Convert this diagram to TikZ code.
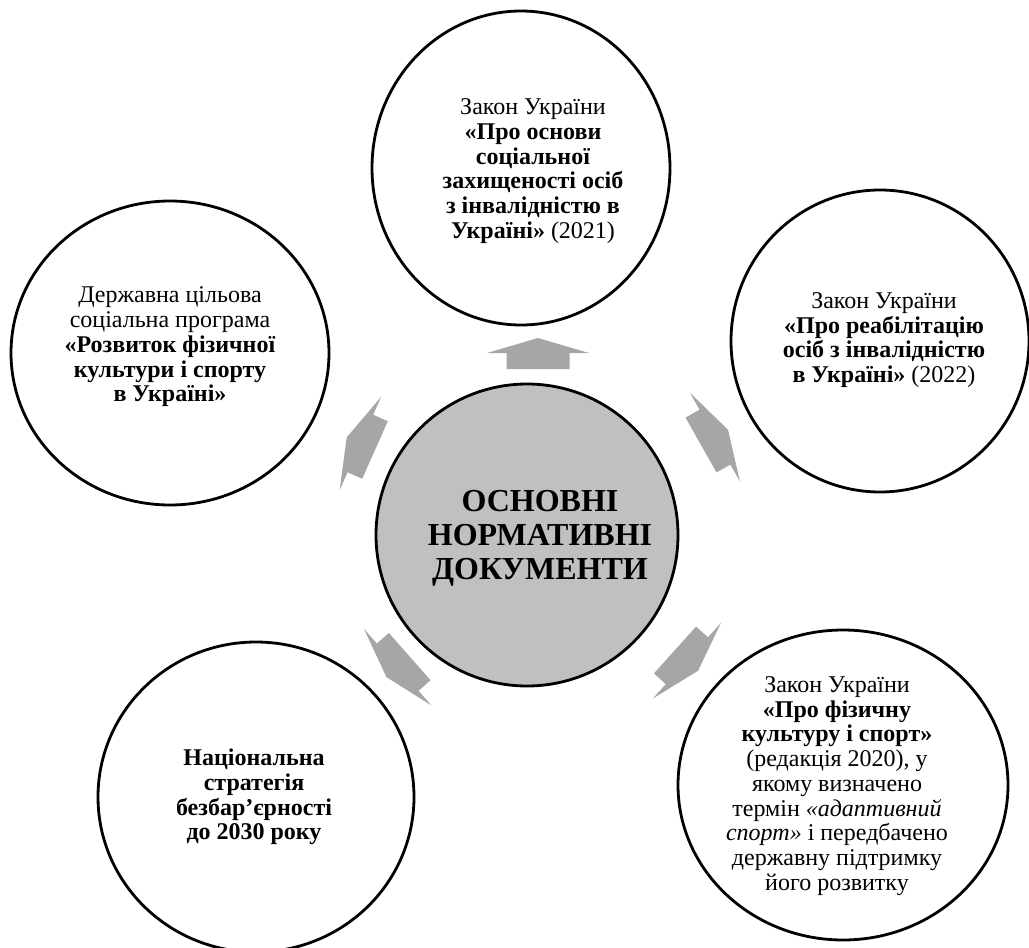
\documentclass[tikz,border=0pt]{standalone}
\usepackage{fontspec}
\setmainfont{Liberation Serif}
\usetikzlibrary{shapes.geometric}
\definecolor{arrowgray}{RGB}{166,166,166}
\definecolor{hubgray}{RGB}{192,192,192}
\begin{document}
\begin{tikzpicture}[x=1pt,y=-1pt,
  outer/.style={ellipse, draw=black, line width=2.8pt, fill=white, inner sep=0pt},
  hub/.style={ellipse, draw=black, line width=2.8pt, fill=hubgray, inner sep=0pt},
  txt/.style={align=center, font=\fontsize{24}{24.7}\selectfont, inner sep=0pt},
  hubtxt/.style={align=center, font=\fontsize{32}{34}\selectfont\bfseries, inner sep=0pt},
  blockarrow/.pic={\fill[arrowgray] (0,-31.5) -- (16,-31.5) -- (16,-51) -- (31,0) -- (16,51) -- (16,31.5) -- (0,31.5) -- cycle;}
]
\useasboundingbox[fill=white] (0,0) rectangle (1029,948);

% circles
\node[hub, minimum width=302pt, minimum height=302pt] (hubc) at (527,535) {};
\node[outer, minimum width=298pt, minimum height=314pt] (topc) at (521,168) {};
\node[outer, minimum width=298pt, minimum height=302pt] (rightc) at (880,341) {};
\node[outer, minimum width=318pt, minimum height=304pt] (leftc) at (170,353) {};
\node[outer, minimum width=316pt, minimum height=310pt] (blc) at (256,797) {};
\node[outer, minimum width=330pt, minimum height=310pt] (brc) at (843,785) {};

% arrows
\pic[rotate=90] at (538,369) {blockarrow};
\pic[rotate=29.4] at (701,445) {blockarrow};
\pic[rotate=-42] at (675,650) {blockarrow};
\pic[rotate=221.4] at (409.7,656.6) {blockarrow};
\pic[rotate=156] at (375,450) {blockarrow};

% texts
\node[hubtxt] (hubt) at (540,538) {ОСНОВНІ\\НОРМАТИВНІ\\ДОКУМЕНТИ};

\node[txt] (topt) at (533,171) {Закон України\\
\textbf{«Про основи}\\
\textbf{соціальної}\\
\textbf{захищеності осіб}\\
\textbf{з інвалідністю в}\\
\textbf{Україні»} (2021)};

\node[txt] (rightt) at (884,340) {Закон України\\
\textbf{«Про реабілітацію}\\
\textbf{осіб з інвалідністю}\\
\textbf{в Україні»} (2022)};

\node[txt] (leftt) at (170,347) {Державна цільова\\
соціальна програма\\
\textbf{«Розвиток фізичної}\\
\textbf{культури і спорту}\\
\textbf{в Україні»}};

\node[txt, font=\fontsize{24}{24.7}\selectfont\bfseries] (blt) at (254,797) {Національна\\стратегія\\безбар’єрності\\до 2030 року};

\node[txt] (brt) at (837,786) {Закон України\\
\textbf{«Про фізичну}\\
\textbf{культуру і спорт»}\\
(редакція 2020), у\\
якому визначено\\
термін \textit{«адаптивний}\\
\textit{спорт»} і передбачено\\
державну підтримку\\
його розвитку};
\end{tikzpicture}
\end{document}
